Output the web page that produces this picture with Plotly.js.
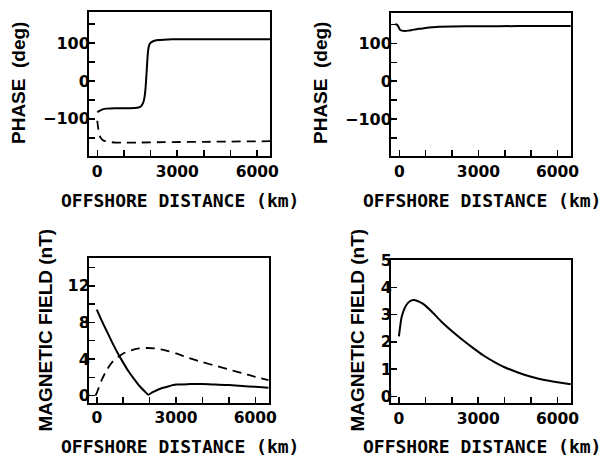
<!DOCTYPE html>
<html><head><meta charset="utf-8">
<script src="https://cdn.plot.ly/plotly-3.0.1.min.js"></script>
<style>html,body{margin:0;padding:0;background:#fff}#chart{width:604px;height:458px}</style>
</head><body><div id="chart"></div>
<script>
// Panel (a): phase, solid and dashed
const phaseA_solid_x = [0, 100, 200, 350, 500, 800, 1100, 1400, 1550, 1650, 1720, 1770, 1810, 1840, 1870, 1900, 1930, 1970, 2050, 2150, 2300, 2500, 2800, 3200, 4000, 5000, 6500];
const phaseA_solid_y = [-82, -78, -75, -73, -72.5, -72, -72, -71.5, -70, -66, -58, -44, -20, 10, 45, 75, 90, 98, 103, 106, 108, 109, 110, 110, 110, 110, 110];
const phaseA_dash_x = [0, 30, 60, 100, 150, 200, 300, 450, 700, 1000, 1500, 2500, 4000, 6500];
const phaseA_dash_y = [-105, -122, -136, -146, -152, -156, -159, -161, -162.5, -163, -162.5, -161.5, -160.5, -159];
// Panel (b): phase
const phaseB_x = [-150, -80, -30, 0, 50, 100, 200, 350, 500, 750, 1000, 1250, 1500, 2000, 3000, 4500, 6500];
const phaseB_y = [152, 149, 144, 139, 135, 134, 133, 134, 136, 139, 141, 143, 144.5, 145, 145.5, 146, 146];
// Panel (c): magnetic field, solid and dashed
const magC_solid_x = [0, 200, 400, 600, 800, 1000, 1200, 1400, 1600, 1800, 1950, 2100, 2400, 2700, 3000, 3500, 4000, 4500, 5000, 5500, 6000, 6500];
const magC_solid_y = [9.4, 8.1, 6.9, 5.7, 4.6, 3.6, 2.65, 1.85, 1.1, 0.5, 0.1, 0.35, 0.75, 1.0, 1.2, 1.25, 1.25, 1.2, 1.15, 1.05, 0.95, 0.85];
const magC_dash_x = [-50, 0, 200, 400, 600, 800, 1000, 1300, 1600, 1900, 2200, 2600, 3000, 3500, 4000, 4500, 5000, 5500, 6000, 6500];
const magC_dash_y = [0, 0.3, 1.8, 2.9, 3.7, 4.2, 4.6, 4.95, 5.15, 5.2, 5.15, 4.95, 4.6, 4.1, 3.65, 3.25, 2.85, 2.45, 2.05, 1.7];
// Panel (d): magnetic field
const magD_x = [0, 100, 200, 300, 400, 550, 700, 900, 1200, 1600, 2000, 2400, 2800, 3200, 3600, 4000, 4500, 5000, 5500, 6000, 6500];
const magD_y = [2.2, 2.9, 3.2, 3.38, 3.48, 3.53, 3.5, 3.4, 3.15, 2.75, 2.4, 2.08, 1.78, 1.5, 1.27, 1.07, 0.88, 0.72, 0.6, 0.52, 0.45];

const xTickVals = [0, 3000, 6000];
const xTickText = ['0', '3000', '6000'];
const phaseTickVals = [-100, 0, 100];
const phaseTickText = ['\u2212100', '0', '100'];
const magCTickVals = [0, 4, 8, 12];
const magDTickVals = [0, 1, 2, 3, 4, 5];
const xTitle = 'OFFSHORE DISTANCE (km)';
const phaseTitle = 'PHASE\u00a0\u00a0(deg)';
const magTitle = 'MAGNETIC FIELD (nT)';

const W = 604, H = 458;
const px = v => v / W, py = v => 1 - v / H;
const lineStyle = {color: '#000', width: 2, shape: 'spline', smoothing: 0.6};
const dashStyle = {color: '#000', width: 1.8, dash: '9px,6px', shape: 'spline', smoothing: 0.6};

const traces = [
  {x: phaseA_solid_x, y: phaseA_solid_y, xaxis: 'x', yaxis: 'y', mode: 'lines', line: lineStyle},
  {x: phaseA_dash_x, y: phaseA_dash_y, xaxis: 'x', yaxis: 'y', mode: 'lines', line: dashStyle},
  {x: phaseB_x, y: phaseB_y, xaxis: 'x2', yaxis: 'y2', mode: 'lines', line: lineStyle},
  {x: magC_solid_x, y: magC_solid_y, xaxis: 'x3', yaxis: 'y3', mode: 'lines', line: lineStyle},
  {x: magC_dash_x, y: magC_dash_y, xaxis: 'x3', yaxis: 'y3', mode: 'lines', line: dashStyle},
  {x: magD_x, y: magD_y, xaxis: 'x4', yaxis: 'y4', mode: 'lines', line: lineStyle}
];

const xTickFont = {family: 'DejaVu Sans', size: 15.5, color: '#000', weight: 'bold'};
const yTickFont = {family: 'DejaVu Sans', size: 16, color: '#000', weight: 'bold'};
function xax(dom, anchor, range) {
  return {domain: dom, anchor: anchor, range: range, showline: true, mirror: true, linewidth: 2, linecolor: '#000',
    ticks: 'inside', ticklen: 6, tickwidth: 1.5, tickcolor: '#000', tickvals: xTickVals, ticktext: xTickText,
    minor: {tickvals: [1000, 2000, 4000, 5000], ticks: 'inside', ticklen: 6, tickwidth: 1.5, tickcolor: '#000'},
    showgrid: false, zeroline: false, tickfont: xTickFont, fixedrange: true};
}
function yax(dom, anchor, range, tv, tt, minorTv) {
  return {domain: dom, anchor: anchor, range: range, showline: true, mirror: true, linewidth: 2, linecolor: '#000',
    ticks: 'inside', ticklen: 6, tickwidth: 1.5, tickcolor: '#000', tickvals: tv, ticktext: tt,
    ticklabelstandoff: -6,
    minor: {tickvals: minorTv, ticks: 'inside', ticklen: 6, tickwidth: 1.5, tickcolor: '#000'},
    showgrid: false, zeroline: false, tickfont: yTickFont, fixedrange: true};
}

const xTitleFont = {family: 'DejaVu Sans Mono', size: 18, color: '#000', weight: 'bold'};
const yTitleFont = {family: 'Liberation Sans', size: 19, color: '#000', weight: 'bold'};
function ann(text, x, y, font, angle) {
  return {text: text, x: px(x), y: py(y), xref: 'paper', yref: 'paper', showarrow: false,
    xanchor: 'center', yanchor: 'middle', font: font, textangle: angle || 0};
}

const layout = {
  width: W, height: H, margin: {l: 0, r: 0, t: 0, b: 0}, showlegend: false,
  paper_bgcolor: '#fff', plot_bgcolor: '#fff',
  xaxis: xax([px(89), px(270)], 'y', [-310, 6480]),
  yaxis: yax([py(156), py(12)], 'x', [-198, 182], phaseTickVals, phaseTickText, [-150, -50, 50, 150]),
  xaxis2: xax([px(391), px(571)], 'y2', [-315, 6510]),
  yaxis2: yax([py(156), py(12.5)], 'x2', [-198, 182], phaseTickVals, phaseTickText, [-150, -50, 50, 150]),
  xaxis3: xax([px(89), px(269)], 'y3', [-295, 6520]),
  yaxis3: yax([py(402.7), py(258.3)], 'x3', [-0.78, 15], magCTickVals, ['0', '4', '8', '12'], [2, 6, 10, 14]),
  xaxis4: xax([px(391), px(571)], 'y4', [-300, 6510]),
  yaxis4: yax([py(403.3), py(260)], 'x4', [-0.25, 5.0], magDTickVals, ['0', '1', '2', '3', '4', '5'], []),
  annotations: [
    ann(xTitle, 180, 200, xTitleFont),
    ann(xTitle, 482, 200, xTitleFont),
    ann(xTitle, 180, 446, xTitleFont),
    ann(xTitle, 482, 446, xTitleFont),
    ann(phaseTitle, 18, 83, yTitleFont, -90),
    ann(phaseTitle, 320, 83, yTitleFont, -90),
    ann(magTitle, 45, 330.5, yTitleFont, -90),
    ann(magTitle, 357, 330.5, yTitleFont, -90)
  ]
};
Plotly.newPlot('chart', traces, layout, {staticPlot: true, displayModeBar: false});
</script></body></html>
